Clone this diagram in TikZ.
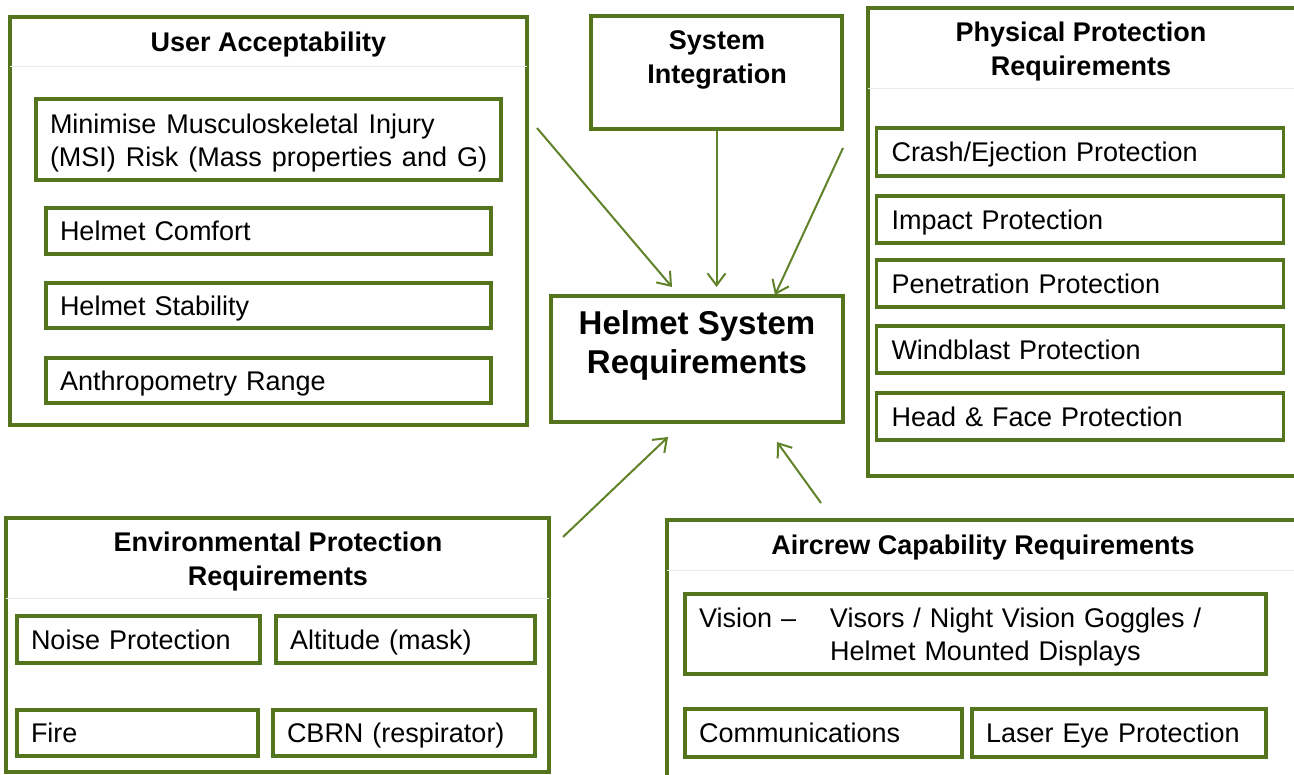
\documentclass[tikz,border=0pt]{standalone}
\usepackage{fontspec}
\setmainfont{Liberation Sans}
\usetikzlibrary{arrows.meta}
\definecolor{grn}{RGB}{84,117,30}
\definecolor{arrgrn}{RGB}{96,130,40}
\begin{document}
\begin{tikzpicture}[x=1pt,y=-1pt,
  box/.style={draw=grn,line width=3.2pt,inner sep=0pt,fill=white},
  item/.style={draw=grn,line width=3.2pt,inner xsep=14pt,inner ysep=0pt,align=left,
    text height=24.3pt,text depth=5pt,
    font=\fontsize{27}{33}\selectfont},
  twoline/.style={text height=20pt,text depth=32.6pt},
  ttl/.style={align=center,inner sep=0pt,font=\bfseries\fontsize{27}{34}\selectfont},
  bigttl/.style={align=center,inner sep=0pt,font=\bfseries\fontsize{33}{39}\selectfont},
  sepline/.style={draw=black!8,line width=0.8pt},
  arr/.style={draw=arrgrn,line width=2pt,-{Straight Barb[length=12pt,width=18pt,line width=2pt]}}
]
\clip (0,0) rectangle (1294,775);
\fill[white] (0,0) rectangle (1294,775);

% ---- User Acceptability
\node[box,minimum width=517pt,minimum height=408pt] (ua) at (268.5,221) {};
\draw[sepline] ([xshift=2pt]ua.west |- 0,66) -- ([xshift=-2pt]ua.east |- 0,66);
\node[ttl] (uat) at (268.5,45) {User Acceptability};
\node[item,twoline,minimum width=465pt,text width=437pt,minimum height=81pt] (msi) at (268.5,139.5)
  {\makebox[437pt][l]{\spaceskip=10pt Minimise Musculoskeletal Injury}\\\makebox[437pt][l]{\spaceskip=10pt (MSI) Risk (Mass properties and G)}};
\node[item,minimum width=445pt,text width=417pt,minimum height=46pt] (hc) at (268.5,231) {Helmet Comfort};
\node[item,minimum width=445pt,text width=417pt,minimum height=45pt] (hs) at (268.5,305.5) {Helmet Stability};
\node[item,minimum width=445pt,text width=417pt,minimum height=45pt] (ar) at (268.5,380.5) {Anthropometry Range};

% ---- System Integration
\node[box,minimum width=251pt,minimum height=113pt] (si) at (716.5,72.5) {};
\node[ttl] (sit) at (717,60) {System\\Integration};

% ---- Helmet System Requirements
\node[box,minimum width=292pt,minimum height=126pt] (hsr) at (697,359) {};
\node[bigttl] (hsrt) at (697,345) {Helmet System\\Requirements};

% ---- Physical Protection
\node[box,minimum width=432pt,minimum height=468pt] (pp) at (1084,242) {};
\draw[sepline] ([xshift=2pt]pp.west |- 0,88) -- ([xshift=-2pt]pp.east |- 0,88);
\node[ttl] (ppt) at (1081,52) {Physical Protection\\Requirements};
\node[item,minimum width=406pt,text width=377pt,minimum height=48pt,inner xsep=15pt] (crash) at (1080,152) {Crash/Ejection Protection};
\node[item,minimum width=406pt,text width=377pt,minimum height=47pt,inner xsep=15pt] (imp) at (1080,219.5) {Impact Protection};
\node[item,minimum width=406pt,text width=377pt,minimum height=47pt,inner xsep=15pt] (pen) at (1080,283.5) {Penetration Protection};
\node[item,minimum width=406pt,text width=377pt,minimum height=47pt,inner xsep=15pt] (wind) at (1080,349.5) {Windblast Protection};
\node[item,minimum width=406pt,text width=377pt,minimum height=47pt,inner xsep=15pt] (head) at (1080,416.5) {Head \& Face Protection};

% ---- Environmental Protection
\node[box,minimum width=543pt,minimum height=254pt] (env) at (277.5,645) {};
\draw[sepline] ([xshift=2pt]env.west |- 0,598) -- ([xshift=-2pt]env.east |- 0,598);
\node[ttl] (envt) at (278,562) {Environmental Protection\\Requirements};
\node[item,minimum width=243pt,text width=215pt,minimum height=47pt] (noise) at (138.5,639.5) {Noise Protection};
\node[item,minimum width=259pt,text width=231pt,minimum height=47pt] (alt) at (405.5,639.5) {Altitude (mask)};
\node[item,minimum width=241pt,text width=213pt,minimum height=46pt] (fire) at (137.5,733) {Fire};
\node[item,minimum width=262pt,text width=234pt,minimum height=46pt] (cbrn) at (404,733) {CBRN (respirator)};

% ---- Aircrew Capability
\node[box,minimum width=633pt,minimum height=265pt] (ac) at (983.5,652.5) {};
\draw[sepline] ([xshift=2pt]ac.west |- 0,570) -- ([xshift=-2pt]ac.east |- 0,570);
\node[ttl] (act) at (983,548) {Aircrew Capability Requirements};
\node[item,twoline,minimum width=581pt,text width=553pt,minimum height=80pt] (vis) at (975.5,634)
  {\makebox[131pt][l]{Vision --}Visors / Night Vision Goggles /\\\hspace*{131pt}Helmet Mounted Displays};
\node[item,minimum width=277pt,text width=249pt,minimum height=48pt] (comm) at (823.5,733) {Communications};
\node[item,minimum width=294pt,text width=266pt,minimum height=48pt] (laser) at (1119,733) {Laser Eye Protection};

% ---- Arrows
\coordinate (a1) at (537,128);
\coordinate (e1) at (672,287);
\coordinate (e2) at (si.south |- 0,287);
\coordinate (a3) at (843,148);
\coordinate (e3) at (775,295);
\coordinate (a4) at (563,537);
\coordinate (e4) at (668,437);
\coordinate (a5) at (821,503);
\coordinate (e5) at (777,442);
\draw[arr] (a1) -- (e1);
\draw[arr] (si.south) -- (e2);
\draw[arr] (a3) -- (e3);
\draw[arr] (a4) -- (e4);
\draw[arr] (a5) -- (e5);
\end{tikzpicture}
\end{document}
